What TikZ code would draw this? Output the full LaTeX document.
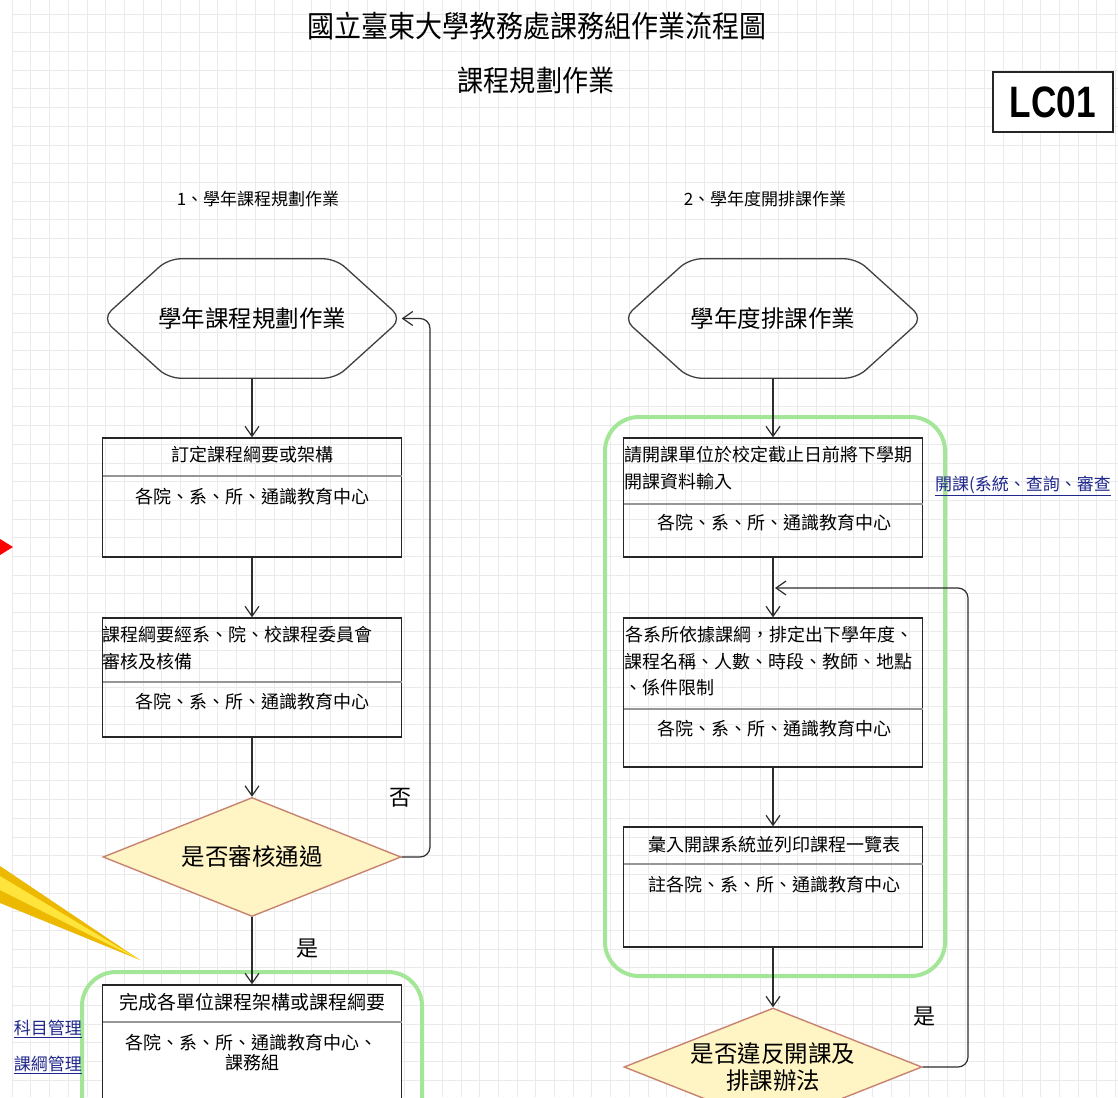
\documentclass[tikz,border=0pt]{standalone}
\usepackage{fontspec}
\setmainfont{Noto Sans CJK TC}
\newfontfamily\lcfont{Liberation Sans}
\usetikzlibrary{arrows.meta,shapes.geometric,calc}
\definecolor{gridc}{RGB}{234,234,234}
\definecolor{greenb}{RGB}{164,230,152}
\definecolor{dfill}{RGB}{255,245,196}
\definecolor{ddraw}{RGB}{200,130,112}
\definecolor{linkc}{RGB}{32,40,140}
\definecolor{linec}{RGB}{45,45,45}
\definecolor{divc}{RGB}{150,150,150}
\definecolor{goldA}{RGB}{236,184,0}
\definecolor{goldB}{RGB}{255,228,60}
\tikzset{
  conn/.style={draw=linec, line width=1.2pt},
  arr/.style={conn, -{Straight Barb[length=10pt,width=14pt]}},
  boxnode/.style={draw=black!85, line width=1.4pt, minimum width=299pt, inner sep=0pt},
  divider/.style={draw=divc, line width=1.2pt},
  btext/.style={font=\fontsize{18}{20}\selectfont, inner sep=0pt},
  hexnode/.style={minimum width=299pt, minimum height=119pt, inner sep=0pt, font=\fontsize{23.5}{25}\selectfont},
  hexline/.style={draw=black!75, line width=1.3pt, rounded corners=12pt},
  decision/.style={diamond, aspect=2.5, draw=ddraw, fill=dfill, line width=1.4pt, inner sep=0pt, font=\fontsize{23.5}{28}\selectfont, align=center},
  greenframe/.style={draw=greenb, line width=4pt, rounded corners=34pt},
  lbl/.style={font=\fontsize{22}{24}\selectfont, inner sep=0pt},
  linktext/.style={font=\fontsize{17}{19}\selectfont, text=linkc, inner sep=0pt},
  headtext/.style={font=\fontsize{17}{19}\selectfont, inner sep=0pt}
}
\begin{document}
\begin{tikzpicture}[x=1pt,y=-1pt]
\useasboundingbox (0,0) rectangle (1118,1097);
\fill[white] (0,0) rectangle (1118,1097);
\begin{scope}
\clip (0,0) rectangle (1118,1097);
% background grid
\foreach \gx in {12,30.7,...,1118} \draw[gridc, line width=0.6pt] (\gx,0) -- (\gx,1097);
\foreach \gy in {14,32.7,...,1097} \draw[gridc, line width=0.6pt] (12,\gy) -- (1118,\gy);

% titles
\node[inner sep=0pt, font=\fontsize{30}{32}\selectfont] (title) at (537,26) {\scalebox{0.9}[1]{國立臺東大學教務處課務組作業流程圖}};
\node[inner sep=0pt, font=\fontsize{29}{31}\selectfont] (subtitle) at (536,80) {\scalebox{0.9}[1]{課程規劃作業}};
\node[draw=black!85, fill=white, line width=1.3pt, minimum width=120pt, minimum height=60pt, inner sep=0pt] (lc) at (1053,102) {\lcfont\bfseries\fontsize{44}{44}\selectfont\scalebox{0.8}[1]{LC01}};

\node[headtext] (s1) at (258,199) {1、學年課程規劃作業};
\node[headtext] (s2) at (765,199) {2、學年度開排課作業};

% green frames
\draw[greenframe] (82,972) rectangle (422,1160);
\draw[greenframe] (605,417) rectangle (945,976);

% yellow callout pointer and red marker
\fill[goldA] (0,866) -- (140,960) -- (0,903) -- cycle;
\fill[goldB] (0,876) -- (140,960) -- (0,890) -- cycle;
\fill[red] (0,539) -- (13,547) -- (0,555) -- cycle;

% ---------- left column ----------
\node[hexnode] (h1) at (252,318.5) {學年課程規劃作業};
\draw[hexline] (h1.west) -- ([xshift=66pt]h1.north west) -- ([xshift=-66pt]h1.north east) -- (h1.east) -- ([xshift=-66pt]h1.south east) -- ([xshift=66pt]h1.south west) -- cycle;

\node[boxnode, minimum height=119pt] (b1) at (252,497.5) {};
\draw[divider] (102.5,476) -- (401.5,476);
\node[btext] (b1a) at (252,455) {訂定課程綱要或架構};
\node[btext] (b1b) at (252,497) {各院、系、所、通識教育中心};

\node[boxnode, minimum height=119pt] (b2) at (252,677.5) {};
\draw[divider] (102.5,682) -- (401.5,682);
\node[btext, anchor=west] (b2a) at (102.5,635) {課程綱要經系、院、校課程委員會};
\node[btext, anchor=west] (b2b) at (102.5,662) {審核及核備};
\node[btext] (b2c) at (252,702) {各院、系、所、通識教育中心};

\node[decision, minimum width=298pt, minimum height=119pt] (d1) at (252,857) {是否審核通過};
\node[lbl] (no1) at (400,798) {否};
\node[lbl] (yes1) at (307,949) {是};

\node[boxnode, minimum height=150pt, fill=white] (b3) at (252,1060) {};
\draw[divider] (102.5,1022) -- (401.5,1022);
\node[btext, font=\fontsize{19}{21}\selectfont] (b3a) at (252,1002) {完成各單位課程架構或課程綱要};
\node[btext] (b3b) at (251,1043) {各院、系、所、通識教育中心、};
\node[btext] (b3c) at (252,1063) {課務組};

\node[linktext, anchor=east] (lk1) at (82,1029) {\underline{科目管理}};
\node[linktext, anchor=east] (lk2) at (82,1065) {\underline{課綱管理}};

\draw[arr] (h1.south) -- (b1.north);
\draw[arr] (b1.south) -- (b2.north);
\draw[arr] (b2.south) -- (d1.north);
\draw[arr] (d1.south) -- (b3.north);
\coordinate (lp) at (430,0);
\draw[arr, rounded corners=10pt] (d1.east) -| (lp |- h1.east) -- (h1.east);

% ---------- right column ----------
\node[hexnode] (h2) at (773,318.5) {學年度排課作業};
\draw[hexline] (h2.west) -- ([xshift=66pt]h2.north west) -- ([xshift=-66pt]h2.north east) -- (h2.east) -- ([xshift=-66pt]h2.south east) -- ([xshift=66pt]h2.south west) -- cycle;

\node[boxnode, minimum height=119pt] (r1) at (773,497.5) {};
\draw[divider] (623.5,504) -- (922.5,504);
\node[btext, anchor=west] (r1a) at (624.5,455) {請開課單位於校定截止日前將下學期};
\node[btext, anchor=west] (r1b) at (624.5,482) {開課資料輸入};
\node[btext] (r1c) at (774,523) {各院、系、所、通識教育中心};

\node[boxnode, minimum height=149pt] (r2) at (773,692.5) {};
\draw[divider] (623.5,709) -- (922.5,709);
\node[btext, anchor=west] (r2a) at (625,635) {各系所依據課綱，排定出下學年度、};
\node[btext, anchor=west] (r2b) at (624,662) {課程名稱、人數、時段、教師、地點};
\node[btext, anchor=west] (r2c) at (624,688) {、係件限制};
\node[btext] (r2d) at (774,729) {各院、系、所、通識教育中心};

\node[boxnode, minimum height=120pt] (r3) at (773,887) {};
\draw[divider] (623.5,864) -- (922.5,864);
\node[btext] (r3a) at (774,845) {彙入開課系統並列印課程一覽表};
\node[btext] (r3b) at (774,885) {註各院、系、所、通識教育中心};

\node[decision, minimum width=298pt, minimum height=118pt] (d2) at (773,1067) {是否違反開課及\\[-1pt]排課辦法};
\node[lbl] (yes2) at (924,1017) {是};

\node[linktext, anchor=west] (lk3) at (935,486) {\underline{開課(系統、查詢、審查}};

\draw[arr] (h2.south) -- (r1.north);
\draw[arr] (r1.south) -- (r2.north);
\draw[arr] (r2.south) -- (r3.north);
\draw[arr] (r3.south) -- (d2.north);
\coordinate (rp) at (968,0);
\coordinate (m2) at (775,588);
\draw[arr, rounded corners=10pt] (d2.east) -| (rp |- m2) -- (m2);
\end{scope}
\end{tikzpicture}
\end{document}
